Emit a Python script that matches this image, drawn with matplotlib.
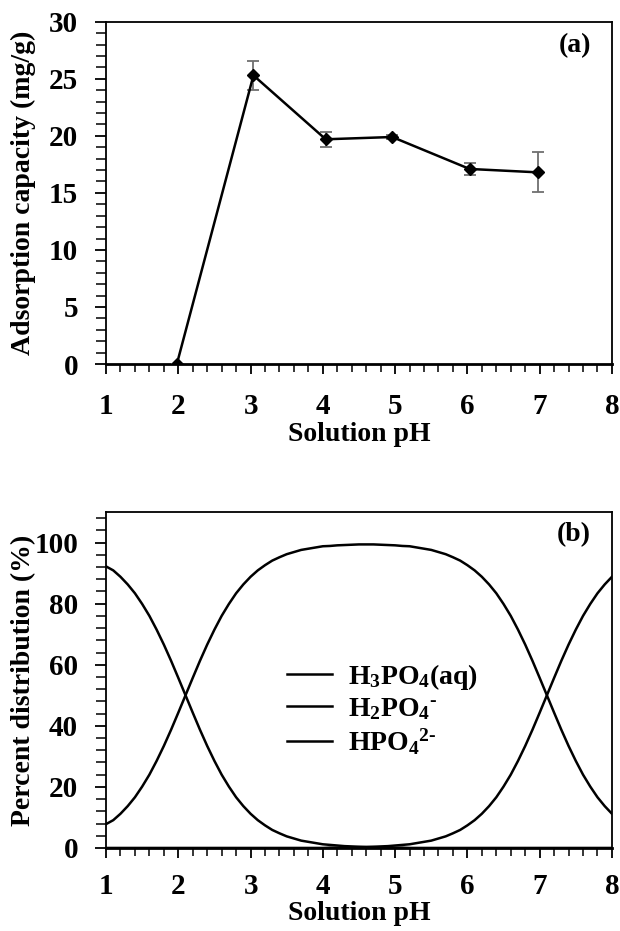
import numpy as np
import matplotlib
matplotlib.use("Agg")
import matplotlib.pyplot as plt
from matplotlib.ticker import MultipleLocator

# --- data ---------------------------------------------------------------
# (a) adsorption capacity vs solution pH
ph_a = [1.98, 3.04, 4.04, 4.96, 6.03, 6.98]
capacity = [0.0, 25.3, 19.7, 19.9, 17.1, 16.8]
cap_err = [0.0, 1.3, 0.65, 0.2, 0.55, 1.75]

# (b) phosphate species distribution (%), read at 0.1 pH steps
ph_b = [1.0, 1.1, 1.2, 1.3, 1.4, 1.5, 1.6, 1.7, 1.8, 1.9,
        2.0, 2.1, 2.2, 2.3, 2.4, 2.5, 2.6, 2.7, 2.8, 2.9,
        3.0, 3.1, 3.2, 3.3, 3.4, 3.5, 3.6, 3.7, 3.8, 3.9,
        4.0, 4.1, 4.2, 4.3, 4.4, 4.5, 4.6, 4.7, 4.8, 4.9,
        5.0, 5.1, 5.2, 5.3, 5.4, 5.5, 5.6, 5.7, 5.8, 5.9,
        6.0, 6.1, 6.2, 6.3, 6.4, 6.5, 6.6, 6.7, 6.8, 6.9,
        7.0, 7.1, 7.2, 7.3, 7.4, 7.5, 7.6, 7.7, 7.8, 7.9, 8.0]
h3po4 = [92.2, 90.9, 88.8, 86.3, 83.4, 79.9, 76.0, 71.5, 66.6, 61.3,
         55.7, 50.0, 44.3, 38.7, 33.4, 28.5, 24.0, 20.1, 16.6, 13.7,
         11.2, 9.1, 7.4, 5.9, 4.8, 3.8, 3.1, 2.4, 2.0, 1.6,
         1.2, 1.0, 0.8, 0.6, 0.5, 0.4, 0.3, 0.25, 0.2, 0.16,
         0.1, 0.1, 0.0, 0.0, 0.0, 0.0, 0.0, 0.0, 0.0, 0.0,
         0.0, 0.0, 0.0, 0.0, 0.0, 0.0, 0.0, 0.0, 0.0, 0.0,
         0.0, 0.0, 0.0, 0.0, 0.0, 0.0, 0.0, 0.0, 0.0, 0.0, 0.0]
h2po4 = [7.8, 9.1, 11.2, 13.7, 16.6, 20.1, 24.0, 28.5, 33.4, 38.7,
         44.3, 50.0, 55.7, 61.3, 66.6, 71.5, 76.0, 79.9, 83.4, 86.3,
         88.8, 90.9, 92.6, 94.1, 95.2, 96.2, 96.9, 97.6, 98.0, 98.4,
         98.8, 98.9, 99.1, 99.2, 99.3, 99.4, 99.4, 99.4, 99.3, 99.2,
         99.1, 98.9, 98.8, 98.4, 98.0, 97.6, 96.9, 96.2, 95.2, 94.1,
         92.6, 90.9, 88.8, 86.3, 83.4, 79.9, 76.0, 71.5, 66.6, 61.3,
         55.7, 50.0, 44.3, 38.7, 33.4, 28.5, 24.0, 20.1, 16.6, 13.7, 11.2]
hpo4 = [0.0, 0.0, 0.0, 0.0, 0.0, 0.0, 0.0, 0.0, 0.0, 0.0,
        0.0, 0.0, 0.0, 0.0, 0.0, 0.0, 0.0, 0.0, 0.0, 0.0,
        0.0, 0.0, 0.0, 0.0, 0.0, 0.0, 0.0, 0.0, 0.0, 0.0,
        0.0, 0.1, 0.1, 0.16, 0.2, 0.25, 0.3, 0.4, 0.5, 0.6,
        0.8, 1.0, 1.2, 1.6, 2.0, 2.4, 3.1, 3.8, 4.8, 5.9,
        7.4, 9.1, 11.2, 13.7, 16.6, 20.1, 24.0, 28.5, 33.4, 38.7,
        44.3, 50.0, 55.7, 61.3, 66.6, 71.5, 76.0, 79.9, 83.4, 86.3, 88.8]
species_labels = [r'H$_3$PO$_4$(aq)', r'H$_2$PO$_4$$^{\text{-}}$',
                  r'HPO$_4$$^{2\text{-}}$']

# --- style --------------------------------------------------------------
plt.rcParams['font.family'] = ['Liberation Serif', 'DejaVu Serif']
plt.rcParams['font.weight'] = 'bold'
plt.rcParams['axes.labelweight'] = 'bold'
plt.rcParams['mathtext.fontset'] = 'custom'
plt.rcParams['mathtext.rm'] = 'Liberation Serif:bold'
plt.rcParams['mathtext.it'] = 'Liberation Serif:bold'
plt.rcParams['mathtext.bf'] = 'Liberation Serif:bold'
plt.rcParams['mathtext.default'] = 'rm'
FS = 20
TFS = 21

fig = plt.figure(figsize=(6.2, 9.31), dpi=100)
ax1 = fig.add_axes([0.171, 0.609, 0.816, 0.3676])
ax2 = fig.add_axes([0.171, 0.0892, 0.816, 0.3608])


def style_axes(ax, xpad):
    for s in ax.spines.values():
        s.set_linewidth(1.3)
        s.set_color('black')
    ax.spines['bottom'].set_linewidth(2.0)
    ax.set_xlim(1, 8)
    ax.xaxis.set_major_locator(MultipleLocator(1))
    ax.xaxis.set_minor_locator(MultipleLocator(0.2))
    ax.tick_params(axis='x', which='major', direction='out', length=7, width=1.3,
                   labelsize=TFS, pad=xpad)
    ax.tick_params(axis='x', which='minor', direction='out', length=6, width=1.1)
    ax.tick_params(axis='y', which='major', direction='out', length=8, width=1.3,
                   labelsize=TFS, pad=12)
    ax.tick_params(axis='y', which='minor', direction='out', length=7, width=1.1)
    ax.set_xlabel('Solution pH', fontsize=FS, labelpad=1)


# --- (a) ----------------------------------------------------------------
ax1.errorbar(ph_a, capacity, yerr=cap_err, color='black', lw=1.8,
             marker='D', ms=6, ecolor='#707070', elinewidth=1.3, capsize=4,
             capthick=1.3, zorder=3)
ax1.set_ylim(0, 30)
ax1.yaxis.set_major_locator(MultipleLocator(5))
ax1.yaxis.set_minor_locator(MultipleLocator(1))
style_axes(ax1, 14)
ax1.set_ylabel('Adsorption capacity (mg/g)', fontsize=FS, va='bottom')
ax1.yaxis.set_label_coords(-0.138, 0.5)
ax1.text(0.927, 0.93, '(a)', transform=ax1.transAxes, fontsize=FS,
         ha='center', va='center')

# --- (b) ----------------------------------------------------------------
for ys, lab in zip([h3po4, h2po4, hpo4], species_labels):
    ax2.plot(ph_b, ys, color='black', lw=1.8, label=lab)
ax2.set_ylim(0, 110)
ax2.yaxis.set_major_locator(MultipleLocator(20))
ax2.yaxis.set_minor_locator(MultipleLocator(4))
ax2.set_yticks([0, 20, 40, 60, 80, 100])
style_axes(ax2, 11)
ax2.set_ylabel('Percent distribution (%)', fontsize=FS, va='bottom')
ax2.yaxis.set_label_coords(-0.138, 0.5)
ax2.text(0.925, 0.932, '(b)', transform=ax2.transAxes, fontsize=FS,
         ha='center', va='center')
ax2.legend(loc='upper left', bbox_to_anchor=(0.33, 0.595), frameon=False,
           fontsize=FS, handlelength=1.62, handletextpad=0.58,
           labelspacing=0.15, borderpad=0)

fig.savefig('out.png', dpi=100)
